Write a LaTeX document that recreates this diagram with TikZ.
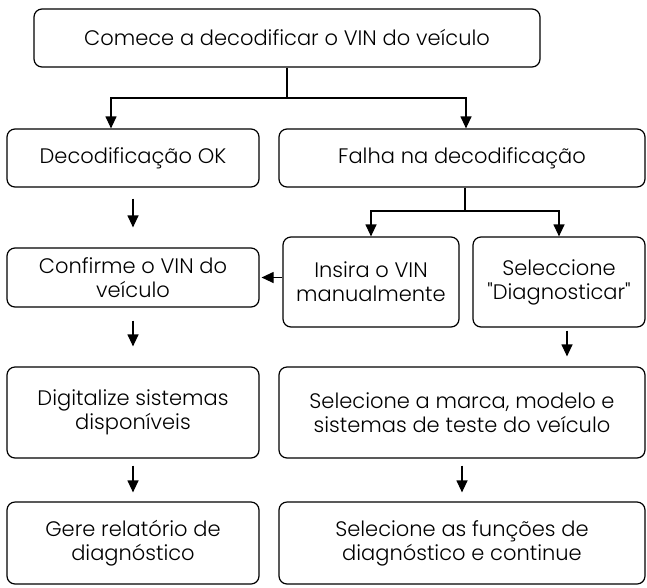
\documentclass[tikz,border=0pt]{standalone}
\usepackage{fontspec}
\setmainfont{Poppins Light}[Ligatures=TeXOff]
\usetikzlibrary{arrows.meta}

\begin{document}
\begin{tikzpicture}[x=1pt, y=-1pt, line width=1.2pt,
    box/.style={draw, rounded corners=8pt, align=center, font=\fontsize{21}{24}\selectfont, inner sep=0pt},
    arr/.style={-{Triangle[length=12pt, width=11pt]}}]
    \useasboundingbox (0,0) rectangle (647,587);

    \node (start)[box, minimum width=506pt, minimum height=58pt] at (287, 38) {Comece a decodificar o VIN do veículo};
    \node (ok)[box, minimum width=252pt, minimum height=58pt] at (133, 158) {Decodificação OK};
    \node (fail)[box, minimum width=366pt, minimum height=58pt] at (462, 158) {Falha na decodificação};
    \node (confirm)[box, minimum width=252pt, minimum height=59pt] at (133, 277.5) {Confirme o VIN do\\veículo};
    \node (manual)[box, minimum width=176pt, minimum height=90pt] at (371, 282) {Insira o VIN\\manualmente};
    \node (select)[box, minimum width=172pt, minimum height=90pt] at (559, 282) {Seleccione\\"Diagnosticar"};
    \node (scan)[box, minimum width=252pt, minimum height=91pt] at (133, 412.5) {Digitalize sistemas\\disponíveis};
    \node (brand)[box, minimum width=366pt, minimum height=91pt] at (462, 412.5) {Selecione a marca, modelo e\\sistemas de teste do veículo};
    \node (report)[box, minimum width=252pt, minimum height=82pt] at (133, 543) {Gere relatório de\\diagnóstico};
    \node (funcs)[box, minimum width=366pt, minimum height=82pt] at (462, 543) {Selecione as funções de\\diagnóstico e continue};

    \coordinate (j1) at (287, 98);
    \coordinate (j2) at (465, 211);

    \draw (start.south) -- (j1);
    \draw[arr] (j1) -| ([xshift=-22pt]ok.north);
    \draw[arr] (j1) -| ([xshift=4pt]fail.north);
    \draw (fail.south -| j2) -- (j2);
    \draw[arr] (j2) -| (manual.north);
    \draw[arr] (j2) -| (select.north);
    \draw[arr] (manual.west |- confirm.east) -- ([xshift=2pt]confirm.east);
    \draw[arr] ([yshift=-11pt]ok.south) -- ([yshift=20pt]confirm.north);
    \draw[arr] ([yshift=-13pt]confirm.south) -- ([yshift=20pt]scan.north);
    \draw[arr] ([yshift=-7pt]scan.south) -- ([yshift=9pt]report.north);
    \draw[arr] ([xshift=8pt, yshift=-3pt]select.south) -- ([xshift=105pt, yshift=10pt]brand.north);
    \draw[arr] ([yshift=-7pt]brand.south) -- ([yshift=9pt]funcs.north);

\end{tikzpicture}
\end{document}
